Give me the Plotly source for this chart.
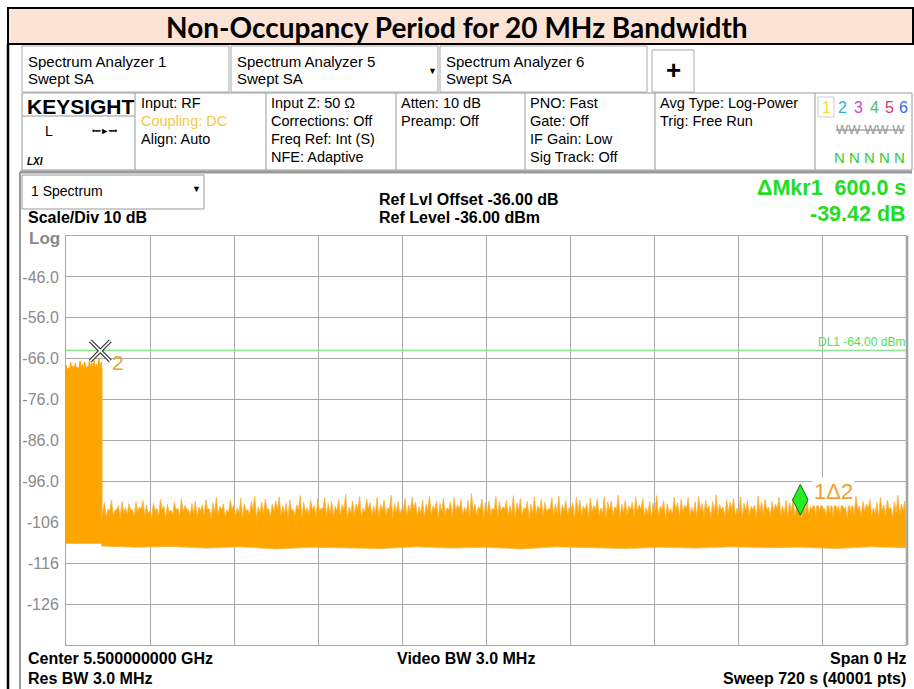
import numpy as np
import plotly.graph_objects as go

# ---------------- data ----------------
SWEEP_S = 720
Y_TOP = -36.0
Y_BOTTOM = -136.0
y_tick_vals = [-46, -56, -66, -76, -86, -96, -106, -116, -126]
y_tick_text = ["-46.0", "-56.0", "-66.0", "-76.0", "-86.0", "-96.0", "-106", "-116", "-126"]

display_line_dbm = -64.0

# burst (transmission before channel closing)
burst_end_s = 30.8
burst_peaks_db = [-67.6, -68.2, -66.9, -67.8, -67.1, -68.0, -66.5, -67.4, -66.8, -67.9,
                  -66.2, -67.0, -66.4, -67.3, -65.9, -66.8]
burst_valley_db = -68.7
burst_floor_db = -111.1

# noise after the burst
noise_start_s = 31.5
noise_end_s = 720
noise_peaks_db = [
    -101.2, -102.8, -100.6, -103.1, -101.9, -100.9, -102.4, -101.5, -103.0, -101.0,
    -102.2, -100.7, -101.8, -103.2, -101.3, -102.6, -100.4, -102.0, -101.6, -103.0,
    -101.1, -102.5, -100.2, -101.9, -102.9, -101.4, -100.8, -102.3, -101.7, -100.5,
    -102.7, -101.2, -99.9, -102.1, -101.5, -103.0, -100.6, -101.8, -102.4, -100.1,
    -101.4, -102.9, -100.9, -99.6, -102.2, -101.0, -100.3, -102.6, -101.6, -100.8,
    -99.8, -102.0, -101.3, -100.5, -102.8, -101.7, -99.5, -101.1, -102.4, -100.6,
    -101.9, -100.2, -102.5, -99.9, -101.4, -100.9, -102.1, -100.4, -101.7, -99.2,
    -102.3, -100.8, -101.5, -99.7, -102.6, -100.3, -101.2, -102.0, -100.0, -101.6,
    -100.6, -102.4, -99.4, -101.3, -100.9, -102.7, -100.2, -101.8, -99.8, -101.1,
    -102.2, -100.5, -101.6, -99.6, -102.0, -100.8, -101.4, -100.1, -102.5, -101.0,
    -99.9, -101.7, -100.4, -102.3, -100.7, -98.9, -101.5, -102.1, -100.3, -101.2,
    -100.8, -102.6, -99.7, -101.0, -102.2, -100.6, -101.9, -99.5, -101.3, -100.2,
    -102.4, -100.9, -101.6, -99.8, -102.0, -100.4, -101.1, -102.7, -100.0, -101.5,
    -99.6, -101.8, -100.7, -102.3, -101.2, -99.9, -100.5, -102.1, -101.4, -100.1,
    -101.9, -100.3, -102.5, -99.7, -101.0, -100.8, -102.2, -99.4, -101.6, -100.6,
    -102.0, -101.1, -99.8, -101.7, -100.2, -102.4, -100.9, -101.3, -99.5, -102.1,
    -100.7, -101.5, -102.6, -99.9, -101.2, -100.4, -101.8, -100.0, -102.3, -101.0,
    -99.7, -101.4, -100.6, -102.0, -100.9, -99.3, -101.6, -102.2, -100.5, -101.1,
    -100.2, -102.5, -99.8, -101.3, -100.7, -102.1, -101.8, -99.6, -101.0, -100.4,
    -102.3, -100.9, -101.5, -99.9, -102.0, -100.6, -101.2, -100.1, -102.4, -99.7,
    -101.7, -100.3, -102.1, -100.8, -99.5, -101.4, -102.6, -100.5, -101.0, -99.8,
    -101.9, -100.2, -102.2, -100.7, -101.3, -99.6, -102.0, -100.9, -101.5, -100.4,
    -102.5, -101.1, -99.9, -101.8, -100.6, -102.3, -101.0, -99.4, -101.6, -100.8,
]
noise_valley_db = [-104.8, -103.2, -104.3, -102.9, -105.0, -103.6, -104.1, -103.0, -104.6,
                   -103.4, -102.8, -104.4, -103.8]
floor_times_s = [31.5, 60, 90, 120, 150, 180, 210, 240, 270, 300, 330, 360,
                 390, 420, 450, 480, 510, 540, 570, 600, 630, 660, 690, 720]
noise_floor_db = [-111.8, -112.1, -111.9, -112.3, -112.0, -112.5, -112.1, -112.2,
                  -112.4, -112.0, -112.3, -112.1, -112.5, -112.0, -112.2, -112.4,
                  -112.1, -112.3, -112.0, -112.2, -112.1, -112.4, -112.0, -112.2]

# markers: [marker 1 (delta), marker 2 (reference)]
marker_times_s = [629.4, 29.4]
marker_levels_db = [-100.5, -64.1]

# ---------------- geometry helpers (layout pixels -> paper) ----------------
W, H = 914, 689
PL, PR, PT, PB = 66, 906, 236, 645


def X(px):
    return (px - PL) / (PR - PL)


def Y(py):
    return (PB - py) / (PB - PT)


FONT = "Liberation Sans, Arial, sans-serif"
ORANGE = "#ffa500"

fig = go.Figure()

# ---- burst block ----
bt = np.linspace(0, burst_end_s - 0.6, len(burst_peaks_db))
bmid = (bt[:-1] + bt[1:]) / 2
bx = [0.0]
by = [burst_valley_db]
for i, p in enumerate(burst_peaks_db):
    bx.append(bt[i]); by.append(p)
    if i < len(bmid):
        bx.append(bmid[i]); by.append(burst_valley_db)
bx += [burst_end_s, burst_end_s, 0.0]
by += [burst_valley_db, burst_floor_db, burst_floor_db]
fig.add_trace(go.Scatter(x=bx, y=by, mode="lines", fill="toself", fillcolor=ORANGE,
                         line=dict(color=ORANGE, width=1), hoverinfo="skip", showlegend=False))

# ---- noise block ----
nt = np.linspace(noise_start_s + 1.5, noise_end_s - 1.0, len(noise_peaks_db))
nmid = (nt[:-1] + nt[1:]) / 2
nx = [burst_end_s - 0.5]
ny = [noise_valley_db[0]]
for i, p in enumerate(noise_peaks_db):
    nx.append(nt[i]); ny.append(p)
    if i < len(nmid):
        nx.append(nmid[i]); ny.append(noise_valley_db[i % len(noise_valley_db)])
nx.append(noise_end_s); ny.append(noise_valley_db[0])
nx += list(floor_times_s[::-1])
ny += list(noise_floor_db[::-1])
nx.append(burst_end_s - 0.5); ny.append(noise_floor_db[0])
fig.add_trace(go.Scatter(x=nx, y=ny, mode="lines", fill="toself", fillcolor=ORANGE,
                         line=dict(color="#f8b440", width=0.8), hoverinfo="skip", showlegend=False))

# ---- display line ----
fig.add_trace(go.Scatter(x=[0, SWEEP_S], y=[display_line_dbm, display_line_dbm], mode="lines",
                         line=dict(color="#8ee38e", width=1.5), hoverinfo="skip", showlegend=False))

# ---- marker 2 (X) ----
fig.add_trace(go.Scatter(x=[marker_times_s[1]], y=[marker_levels_db[1]], mode="markers",
                         marker=dict(symbol="x-thin-open", size=20, color="#333",
                                     line=dict(color="#333", width=4)),
                         hoverinfo="skip", showlegend=False))
fig.add_trace(go.Scatter(x=[marker_times_s[1]], y=[marker_levels_db[1]], mode="markers",
                         marker=dict(symbol="x-thin-open", size=20, color="white",
                                     line=dict(color="white", width=1.6)),
                         hoverinfo="skip", showlegend=False))
# ---- marker 1 (diamond) ----
fig.add_trace(go.Scatter(x=[marker_times_s[0]], y=[marker_levels_db[0]], mode="markers",
                         marker=dict(symbol="diamond-tall", size=22, color="#22ee22",
                                     line=dict(color="#1f5f1f", width=1)),
                         hoverinfo="skip", showlegend=False))

ann = []


def txt(x, y, s, size=14, color="black", bold=False, anchor="left", family=FONT, **kw):
    if bold:
        s = "<b>" + s + "</b>"
    ann.append(dict(x=X(x), y=Y(y), xref="paper", yref="paper", text=s, showarrow=False,
                    xanchor=anchor, yanchor="middle", font=dict(size=size, color=color, family=family), **kw))


# marker labels
ann.append(dict(x=marker_times_s[1], y=marker_levels_db[1], xref="x", yref="y", text="2", showarrow=False,
                xshift=18, yshift=-12, font=dict(size=21, color="#f0a030", family=FONT)))
ann.append(dict(x=marker_times_s[0], y=marker_levels_db[0], xref="x", yref="y", text="1Δ2", showarrow=False,
                xshift=33, yshift=8, bgcolor="white", font=dict(size=22, color="#f0a030", family=FONT)))
ann.append(dict(x=SWEEP_S, y=display_line_dbm, xref="x", yref="y", text="DL1 -64.00 dBm", showarrow=False,
                xanchor="right", yanchor="bottom", xshift=1, yshift=0,
                font=dict(size=12, color="#55dd55", family=FONT)))

# title
txt(457, 27, "Non-Occupancy Period for 20 MHz Bandwidth", size=28, bold=True, anchor="center",
    family="Lato, sans-serif")

# tabs
for x0, name in [(26, "Spectrum Analyzer 1"), (235, "Spectrum Analyzer 5"), (444, "Spectrum Analyzer 6")]:
    txt(x0, 61, name, size=15)
    txt(x0, 79, "Swept SA", size=15)
txt(432, 71, "▼", size=9, anchor="center")
txt(673, 70, "+", size=26, bold=True, anchor="center")

# info panel
txt(25, 106, "KEYSIGHT", size=21, bold=True)
txt(43, 131, "L", size=14)
txt(90, 131, "•━►━•", size=9)
txt(25, 161, "<i>LXI</i>", size=10, bold=True)
for i, s in enumerate(["Input: RF", "<span style='color:#f5c842'>Coupling: DC</span>", "Align: Auto"]):
    txt(139, 103 + 18 * i, s, size=14.5)
for i, s in enumerate(["Input Z: 50 Ω", "Corrections: Off", "Freq Ref: Int (S)", "NFE: Adaptive"]):
    txt(269, 103 + 18 * i, s, size=14.5)
for i, s in enumerate(["Atten: 10 dB", "Preamp: Off"]):
    txt(399, 103 + 18 * i, s, size=14.5)
for i, s in enumerate(["PNO: Fast", "Gate: Off", "IF Gain: Low", "Sig Track: Off"]):
    txt(528, 103 + 18 * i, s, size=14.5)
for i, s in enumerate(["Avg Type: Log-Power", "Trig: Free Run"]):
    txt(658, 103 + 18 * i, s, size=14.5)
for xx, d, c in [(826, "1", "#f2e030"), (842, "2", "#20b8e0"), (858, "3", "#e040c8"),
                 (874, "4", "#40c070"), (889, "5", "#e03060"), (903, "6", "#3070e0")]:
    txt(xx, 107, d, size=16, color=c, anchor="center")
txt(907, 129, "<span style='text-decoration:line-through'>WW WW W</span>", size=13, color="#999", anchor="right")
txt(907, 157, "N N N N N", size=15, color="#33cc33", anchor="right")

# chart header
txt(29, 191, "1 Spectrum", size=14)
txt(196, 189, "▼", size=9, anchor="center")
txt(26, 218, "Scale/Div 10 dB", size=16, bold=True)
txt(27, 238, "Log", size=17, bold=True, color="#888")
txt(377, 199, "Ref Lvl Offset -36.00 dB", size=16, bold=True)
txt(377, 218, "Ref Level -36.00 dBm", size=16, bold=True)
txt(908, 188, "ΔMkr1  600.0 s", size=21.5, bold=True, color="#22dd22", anchor="right")
txt(908, 214, "-39.42 dB", size=21.5, bold=True, color="#22dd22", anchor="right")

# footer
txt(26, 658, "Center 5.500000000 GHz", size=16, bold=True)
txt(26, 678, "Res BW 3.0 MHz", size=16, bold=True)
txt(466, 658, "Video BW 3.0 MHz", size=16, bold=True, anchor="center")
txt(908, 658, "Span 0 Hz", size=16, bold=True, anchor="right")
txt(908, 678, "Sweep 720 s (40001 pts)", size=16, bold=True, anchor="right")

shapes = []


def rect(x0, y0, x1, y1, line="#aaa", width=1, fill=None):
    d = dict(type="rect", xref="paper", yref="paper", x0=X(x0), x1=X(x1), y0=Y(y1), y1=Y(y0),
             line=dict(color=line, width=width), layer="below")
    if fill:
        d["fillcolor"] = fill
    shapes.append(d)


def line(x0, y0, x1, y1, color="#aaa", width=1):
    shapes.append(dict(type="line", xref="paper", yref="paper", x0=X(x0), x1=X(x1), y0=Y(y0), y1=Y(y1),
                       line=dict(color=color, width=width), layer="below"))


rect(8, 8, 913, 44, line="black", width=2, fill="#fbe4d5")
line(8, 44, 8, 689, color="black", width=2.5)
rect(22, 46, 229, 92, line="#aaa")
rect(231, 46, 438, 92, line="#aaa")
rect(440, 46, 647, 92, line="#aaa")
rect(652, 50, 694, 92, line="#aaa")
rect(22, 93, 912, 170, line="#999")
for xx in [135, 266, 396, 525, 655, 815]:
    line(xx, 93, xx, 170, color="#999")
line(22, 116, 135, 116, color="#999")
rect(818, 97, 834, 117, line="#ccc")
line(20, 172, 912, 172, color="#999", width=3)
line(20, 172, 20, 689, color="#999", width=2)
rect(22, 175, 204, 209, line="#999")
line(907, 236, 907, 645, color="#a0a0a0", width=2.5)

fig.update_layout(
    width=W, height=H, autosize=False,
    margin=dict(l=PL, r=W - PR, t=PT, b=H - PB, pad=0),
    paper_bgcolor="white", plot_bgcolor="white",
    annotations=ann, shapes=shapes,
    xaxis=dict(range=[0, SWEEP_S], dtick=SWEEP_S / 10, tick0=0, showgrid=True, gridcolor="#a8a8a8",
               gridwidth=1, showticklabels=False, zeroline=False, showline=True, linecolor="#a8a8a8",
               mirror=True, ticks=""),
    yaxis=dict(range=[Y_BOTTOM, Y_TOP], tickvals=y_tick_vals, ticktext=y_tick_text, showgrid=True,
               gridcolor="#a8a8a8", gridwidth=1, zeroline=False, showline=True, linecolor="#a8a8a8",
               mirror=True, ticks="", ticklabelstandoff=3,
               tickfont=dict(size=16, color="#8a8a8a", family=FONT)),
    font=dict(family=FONT),
    showlegend=False,
)

fig.write_html("out.html", config={"displayModeBar": False},
               post_script="document.body.style.margin='0px';document.body.style.overflow='hidden';")
